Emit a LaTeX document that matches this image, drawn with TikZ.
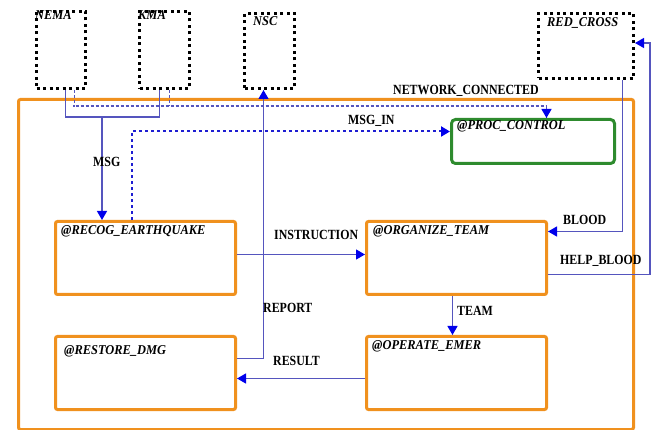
\documentclass[tikz,border=0pt]{standalone}
\usepackage{fontspec}
\setmainfont{Liberation Serif}
\newfontfamily\lblfont[FakeStretch=0.85]{Liberation Serif}
\newfontfamily\ttlfont[FakeStretch=0.92]{Liberation Serif}
\usetikzlibrary{arrows.meta}
\definecolor{orng}{RGB}{240,145,30}
\definecolor{grn}{RGB}{46,139,46}
\definecolor{lnblue}{RGB}{85,85,190}
\definecolor{tipblue}{RGB}{0,0,235}
\definecolor{dotblue}{RGB}{30,30,210}
\tikzset{
  extbox/.style={draw=black, line width=3pt, dash pattern=on 3pt off 3.5pt, rectangle, anchor=north west, inner sep=0pt},
  orgbox/.style={draw=orng, line width=3pt, rounded corners=2pt, rectangle, anchor=north west, inner sep=0pt},
  grnbox/.style={draw=grn, line width=3pt, rounded corners=4pt, rectangle, anchor=north west, inner sep=0pt},
  ttl/.style={anchor=base west, inner sep=0pt, font=\ttlfont\fontsize{13.5}{15}\selectfont\bfseries\itshape},
  lbl/.style={anchor=base west, inner sep=0pt, font=\lblfont\fontsize{14}{16}\selectfont\bfseries},
  ln/.style={draw=lnblue, line width=1.2pt},
  arr/.style={ln, -{Triangle[length=9pt,width=10pt,color=tipblue]}},
  dsh/.style={ln, dash pattern=on 3pt off 2pt},
  dtt/.style={draw=dotblue, line width=2pt, dash pattern=on 3pt off 3pt, -{Triangle[length=9pt,width=10pt,color=tipblue]}}
}
\begin{document}
\begin{tikzpicture}[x=1pt,y=-1pt]
\useasboundingbox (0,0) rectangle (656,430);
% outer
\node[orgbox, minimum width=615pt, minimum height=330pt] (outer) at (17,98) {};
% external entities
\node[extbox, minimum width=49pt, minimum height=77pt] (nema) at (35,10) {};
\node[extbox, minimum width=50pt, minimum height=77pt] (kma) at (138,10) {};
\node[extbox, minimum width=50pt, minimum height=75pt] (nsc) at (243,12) {};
\node[extbox, minimum width=95pt, minimum height=65pt] (red) at (537,12) {};
% processes
\node[grnbox, minimum width=163pt, minimum height=44pt] (proc) at (450,118) {};
\node[orgbox, minimum width=180pt, minimum height=73pt] (recog) at (54,220) {};
\node[orgbox, minimum width=180pt, minimum height=73pt] (org) at (365,220) {};
\node[orgbox, minimum width=180pt, minimum height=73pt] (rest) at (54,335) {};
\node[orgbox, minimum width=180pt, minimum height=73pt] (oper) at (365,335) {};
% titles
\node[ttl] (tnema) at (35,20) {NEMA};
\node[ttl] (tkma) at (138,20) {KMA};
\node[ttl] (tnsc) at (253,26) {NSC};
\node[ttl] (tred) at (547,27) {RED\_CROSS};
\node[ttl] (tproc) at (457,130) {@PROC\_CONTROL};
\node[ttl] (trecog) at (61,235) {@RECOG\_EARTHQUAKE};
\node[ttl] (torg) at (373,235) {@ORGANIZE\_TEAM};
\node[ttl] (trest) at (64,355) {@RESTORE\_DMG};
\node[ttl] (toper) at (372,349) {@OPERATE\_EMER};
% coordinates
\coordinate (msgj) at (102,117);
\coordinate (netj) at (73,106);
\coordinate (hb) at (650,43);
% MSG
\draw[ln] ([xshift=4.5pt]nema.south) |- (msgj) -| ([xshift=-5pt]kma.south);
\draw[arr] (msgj) -- (msgj |- recog.north);
% NETWORK_CONNECTED
\draw[dsh] ([xshift=13.5pt]nema.south) |- (netj) -| ([xshift=13.5pt]proc.north);
\draw[dsh] ([xshift=5pt]kma.south) -- ([xshift=5pt]kma.south |- netj);
\draw[ln, -{Triangle[length=9pt,width=10pt,color=tipblue]}] ([xshift=13.5pt,yshift=1pt]proc.north) ++(0,-9) -- ([xshift=13.5pt]proc.north);
% MSG_IN
\draw[dtt] ([xshift=-14pt]recog.north) |- ([yshift=10pt]proc.west);
% INSTRUCTION
\draw[arr] ([yshift=3.5pt]recog.east) -- ([yshift=3.5pt]org.west);
% REPORT
\draw[arr] ([yshift=14.5pt]rest.east) -| ([xshift=-6pt]nsc.south);
% RESULT
\draw[arr] ([yshift=-5.5pt]oper.west) -- ([yshift=-5.5pt]rest.east);
% TEAM
\draw[arr] ([xshift=-4pt]org.south) -- ([xshift=-4pt]oper.north);
% BLOOD
\draw[arr] ([xshift=36.5pt]red.south) |- ([yshift=26.5pt]org.east);
% HELP_BLOOD
\draw[arr] ([yshift=-16.5pt]org.east) -| (hb) -- (hb -| red.east);
% labels
\node[lbl] (lmsg) at (93,167) {MSG};
\node[lbl] (lnet) at (393,95) {NETWORK\_CONNECTED};
\node[lbl] (lmsgin) at (348,125) {MSG\_IN};
\node[lbl] (linst) at (274,240) {INSTRUCTION};
\node[lbl] (lblood) at (563,225) {BLOOD};
\node[lbl] (lhelp) at (560,265) {HELP\_BLOOD};
\node[lbl] (lrep) at (263,313) {REPORT};
\node[lbl] (lres) at (273,366) {RESULT};
\node[lbl] (lteam) at (457,316) {TEAM};
\end{tikzpicture}
\end{document}
